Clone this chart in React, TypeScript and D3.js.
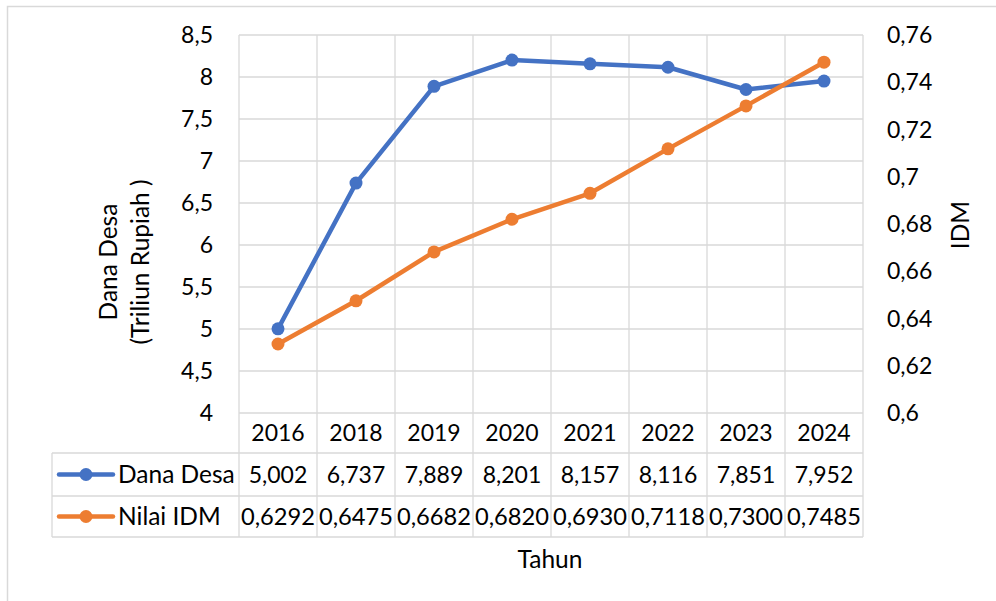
import React from "react";
import * as d3 from "d3";

const years = ["2016", "2018", "2019", "2020", "2021", "2022", "2023", "2024"];
const danaDesa = [5.002, 6.737, 7.889, 8.201, 8.157, 8.116, 7.851, 7.952];
const nilaiIDM = [0.6292, 0.6475, 0.6682, 0.682, 0.693, 0.7118, 0.73, 0.7485];
const danaLabels = ["5,002", "6,737", "7,889", "8,201", "8,157", "8,116", "7,851", "7,952"];
const idmLabels = ["0,6292", "0,6475", "0,6682", "0,6820", "0,6930", "0,7118", "0,7300", "0,7485"];
const leftTicks = [4, 4.5, 5, 5.5, 6, 6.5, 7, 7.5, 8, 8.5];
const rightTicks = [0.6, 0.62, 0.64, 0.66, 0.68, 0.7, 0.72, 0.74, 0.76];

const BLUE = "#4472C4";
const ORANGE = "#ED7D31";
const GRID = "#d9d9d9";
const FONT = "Lato, 'Open Sans', sans-serif";

export default function App() {
  const W = 996, H = 601;
  const left = 239, right = 863, top = 35, bottom = 413;
  const x = d3.scaleBand<string>().domain(years).range([left, right]);
  const yL = d3.scaleLinear().domain([4, 8.5]).range([bottom, top]);
  const yR = d3.scaleLinear().domain([0.6, 0.76]).range([bottom, top]);
  const cx = (d: string) => (x(d) as number) + x.bandwidth() / 2;
  const lineL = d3.line<number>().x((_, i) => cx(years[i])).y((d) => yL(d));
  const lineR = d3.line<number>().x((_, i) => cx(years[i])).y((d) => yR(d));
  const fmt = (v: number) => String(v).replace(".", ",");
  const row1 = 453, row2 = 496, row3 = 537, legLeft = 52;
  const fs = 23;
  const ft = 24.5;
  const bounds = years.map((y) => x(y) as number).concat([right]);

  return (
    <svg width={W} height={H} style={{ position: "absolute", left: 0, top: 0 }} fontFamily={FONT}>
      <rect x={0} y={0} width={W} height={H} fill="#fff" />
      <rect x={7.5} y={6.5} width={W + 10} height={H + 10} fill="none" stroke={GRID} strokeWidth={1.5} />
      {leftTicks.map((t) => (
        <line key={"g" + t} x1={left} x2={right} y1={yL(t)} y2={yL(t)} stroke={GRID} strokeWidth={1.3} />
      ))}
      {bounds.map((b, i) => (
        <line key={"v" + i} x1={b} x2={b} y1={top} y2={row3} stroke={GRID} strokeWidth={1.3} />
      ))}
      {[row1, row2, row3].map((r) => (
        <line key={"h" + r} x1={legLeft} x2={right} y1={r} y2={r} stroke={GRID} strokeWidth={1.3} />
      ))}
      <line x1={legLeft} x2={legLeft} y1={row1} y2={row3} stroke={GRID} strokeWidth={1.3} />
      {leftTicks.map((t) => (
        <text key={"l" + t} x={213} y={yL(t)} dy="0.35em" textAnchor="end" fontSize={fs} fill="#000">
          {fmt(t)}
        </text>
      ))}
      {rightTicks.map((t) => (
        <text key={"r" + t} x={887} y={yR(t)} dy="0.35em" textAnchor="start" fontSize={fs} fill="#000">
          {fmt(+t.toFixed(2))}
        </text>
      ))}
      <path d={lineL(danaDesa) || ""} fill="none" stroke={BLUE} strokeWidth={4.5} strokeLinejoin="round" />
      {danaDesa.map((d, i) => (
        <circle key={"bd" + i} cx={cx(years[i])} cy={yL(d)} r={6.5} fill={BLUE} />
      ))}
      <path d={lineR(nilaiIDM) || ""} fill="none" stroke={ORANGE} strokeWidth={4.5} strokeLinejoin="round" />
      {nilaiIDM.map((d, i) => (
        <circle key={"od" + i} cx={cx(years[i])} cy={yR(d)} r={6.5} fill={ORANGE} />
      ))}
      {years.map((y) => (
        <text key={"y" + y} x={cx(y)} y={(bottom + row1) / 2} dy="0.35em" textAnchor="middle" fontSize={fs}>
          {y}
        </text>
      ))}
      {danaLabels.map((s, i) => (
        <text key={"dl" + i} x={cx(years[i])} y={(row1 + row2) / 2} dy="0.35em" textAnchor="middle" fontSize={fs}>
          {s}
        </text>
      ))}
      {idmLabels.map((s, i) => (
        <text key={"il" + i} x={cx(years[i])} y={(row2 + row3) / 2} dy="0.35em" textAnchor="middle" fontSize={fs} textLength={74} lengthAdjust="spacingAndGlyphs">
          {s}
        </text>
      ))}
      <line x1={59} x2={113} y1={(row1 + row2) / 2} y2={(row1 + row2) / 2} stroke={BLUE} strokeWidth={4.5} strokeLinecap="round" />
      <circle cx={86} cy={(row1 + row2) / 2} r={6.5} fill={BLUE} />
      <text x={118} y={(row1 + row2) / 2} dy="0.35em" fontSize={ft}>Dana Desa</text>
      <line x1={59} x2={113} y1={(row2 + row3) / 2} y2={(row2 + row3) / 2} stroke={ORANGE} strokeWidth={4.5} strokeLinecap="round" />
      <circle cx={86} cy={(row2 + row3) / 2} r={6.5} fill={ORANGE} />
      <text x={118} y={(row2 + row3) / 2} dy="0.35em" fontSize={ft}>Nilai IDM</text>
      <text x={550} y={559} dy="0.35em" textAnchor="middle" fontSize={ft}>Tahun</text>
      <text transform={`translate(108,262) rotate(-90)`} textAnchor="middle" dy="0.35em" fontSize={ft}>Dana Desa</text>
      <text transform={`translate(140,262) rotate(-90)`} textAnchor="middle" dy="0.35em" fontSize={ft}>(Triliun Rupiah )</text>
      <text transform={`translate(960,225) rotate(-90)`} textAnchor="middle" dy="0.35em" fontSize={ft}>IDM</text>
    </svg>
  );
}
